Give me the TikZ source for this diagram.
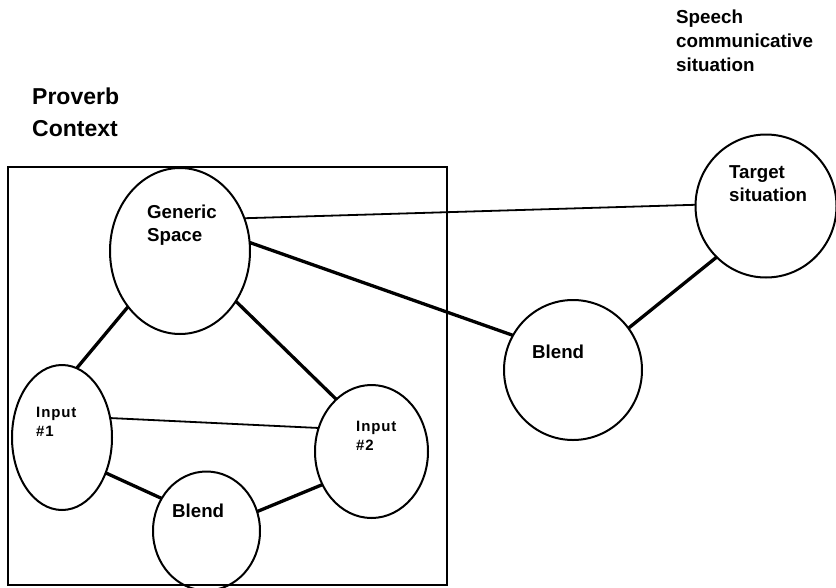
\documentclass[tikz,border=0pt]{standalone}
\usepackage{fontspec}
\setmainfont{Liberation Sans}
\usetikzlibrary{shapes.geometric}
\begin{document}
\begin{tikzpicture}[x=1pt,y=-1pt,
  space/.style={ellipse, draw, line width=2pt, inner sep=0pt, outer sep=0pt},
  heavy/.style={line width=3.3pt},
  light/.style={line width=1.8pt},
  frame/.style={line width=2pt},
  lbl/.style={anchor=north west, inner sep=0pt, align=left,
    font=\bfseries\fontsize{18.7}{23}\selectfont},
  biglbl/.style={lbl, font=\bfseries\fontsize{23}{32}\selectfont},
  smalllbl/.style={lbl, font=\bfseries\fontsize{15}{19}\selectfont\addfontfeatures{LetterSpace=6}}]
\useasboundingbox (0,0) rectangle (836,587);

% proverb context frame
\draw[frame] (8,167) rectangle (447,585);

% mental spaces
\node[space, minimum width=140, minimum height=166] (gen) at (180,251) {};
\node[space, minimum width=100, minimum height=145] (in1) at (62,437.5) {};
\node[space, minimum width=113, minimum height=133] (in2) at (371.5,451.5) {};
\node[space, minimum width=107, minimum height=119] (blendA) at (206.5,531) {};
\node[space, minimum width=138, minimum height=140] (blendB) at (573,370) {};
\node[space, minimum width=141, minimum height=143] (target) at (766,206) {};

% labels
\node[biglbl] (tProverb) at (32,88) {Proverb\\Context};
\node[lbl, font=\bfseries\fontsize{18.8}{24}\selectfont] (tSpeech) at (676,10) {Speech\\communicative\\situation};
\node[lbl] (tGen) at (147,205) {Generic\\Space};
\node[lbl] (tTarget) at (729,165) {Target\\situation};
\node[smalllbl] (tIn1) at (36,407) {Input\\\#1};
\node[smalllbl] (tIn2) at (356,421) {Input\\\#2};
\node[lbl] (tBlendA) at (172,504) {Blend};
\node[lbl] (tBlendB) at (532,345) {Blend};

% connectors
\draw[heavy] (gen.227) -- (in1.78);
\draw[heavy] (gen.318) -- (in2.124);
\draw[light] (in1.22) -- (in2.156);
\draw[heavy] (in1.321) -- (blendA.144);
\draw[heavy] (blendA.21) -- (in2.214);
\draw[light] (gen.27) -- (target.179);
\draw[heavy] (gen.7) -- (blendB.150);
\draw[heavy] (blendB.37) -- (target.226);
\end{tikzpicture}
\end{document}
